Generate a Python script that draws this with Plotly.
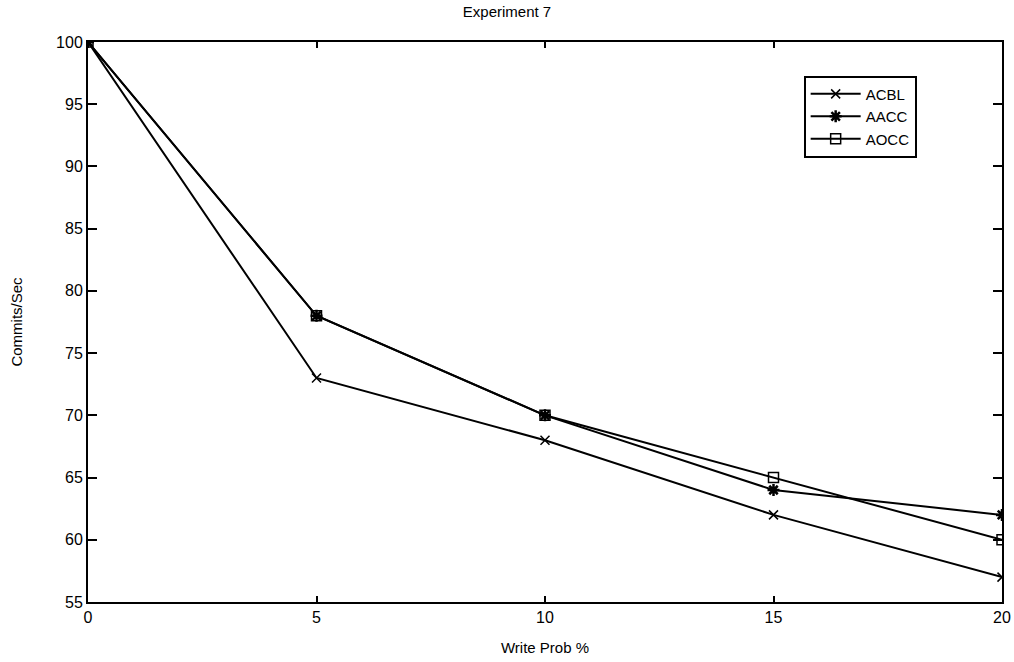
import plotly.graph_objects as go

write_prob = [0, 5, 10, 15, 20]
acbl = [100, 73, 68, 62, 57]
aacc = [100, 78, 70, 64, 62]
aocc = [100, 78, 70, 65, 60]

x_ticks = [0, 5, 10, 15, 20]
y_ticks = [55, 60, 65, 70, 75, 80, 85, 90, 95, 100]

FONT = "Liberation Sans, Arial"

fig = go.Figure()
fig.add_trace(go.Scatter(x=write_prob, y=acbl, name="ACBL", mode="lines+markers",
                         line=dict(color="black", width=2),
                         marker=dict(symbol="x-thin-open", size=9, color="black",
                                     line=dict(color="black", width=1.5))))
fig.add_trace(go.Scatter(x=write_prob, y=aacc, name="AACC", mode="lines+markers",
                         line=dict(color="black", width=2),
                         marker=dict(symbol="asterisk-open", size=10, color="black",
                                     line=dict(color="black", width=2.5))))
fig.add_trace(go.Scatter(x=write_prob, y=aocc, name="AOCC", mode="lines+markers",
                         line=dict(color="black", width=2),
                         marker=dict(symbol="square-open", size=10, color="black",
                                     line=dict(color="black", width=1.5))))

axis_common = dict(showgrid=False, zeroline=False, showline=True, linecolor="black",
                   linewidth=2, mirror="ticks", ticks="inside", tickcolor="black",
                   tickwidth=2, automargin=False,
                   tickfont=dict(family=FONT, size=16, color="black"))

fig.update_layout(
    width=1014, height=662,
    paper_bgcolor="white", plot_bgcolor="white",
    margin=dict(l=88, r=12, t=42, b=60),
    title=dict(text="Experiment 7", x=0.5, xanchor="center", yref="container",
               y=1 - 6 / 662, yanchor="top",
               font=dict(family=FONT, size=15, color="black")),
    xaxis=dict(range=[0, 20], tickvals=x_ticks, ticklen=6,
               title=dict(text="Write Prob %", font=dict(family=FONT, size=15, color="black"), standoff=17),
               **axis_common),
    yaxis=dict(range=[55, 100], tickvals=y_ticks, ticklen=9,
               title=dict(text="Commits/Sec", font=dict(family=FONT, size=15, color="black"), standoff=30),
               **axis_common),
    legend=dict(x=0.783, y=0.94, xanchor="left", yanchor="top",
                bgcolor="white", bordercolor="black", borderwidth=2,
                font=dict(family=FONT, size=15, color="black"),
                tracegroupgap=0, itemwidth=50),
    showlegend=True,
)

fig.write_html("out.html", config={"displayModeBar": False},
               post_script="document.body.style.margin='0';document.body.style.overflow='hidden';")
